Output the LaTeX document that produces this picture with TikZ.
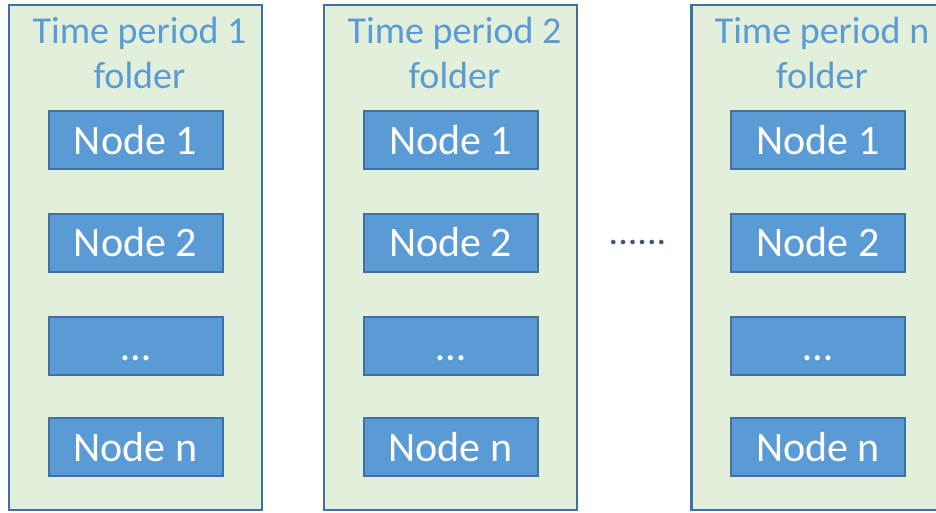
\documentclass[tikz,border=0pt]{standalone}
\usepackage{fontspec}
\setmainfont{Carlito}
\definecolor{folderfill}{HTML}{E2EFDA}
\definecolor{edgeblue}{HTML}{41719C}
\definecolor{nodeblue}{HTML}{5B9BD5}
\definecolor{titleblue}{HTML}{5B9BD5}
\definecolor{dotgray}{HTML}{44546A}

\begin{document}
\begin{tikzpicture}[x=1pt,y=-1pt,
  folder/.style={draw=edgeblue, fill=folderfill, line width=2.5pt,
    minimum width=253pt, minimum height=505pt, inner sep=0pt},
  foldertitle/.style={text=titleblue, font=\fontsize{38}{45}\selectfont,
    align=center, inner sep=0pt},
  item/.style={draw=edgeblue, fill=nodeblue, line width=2pt,
    minimum width=174pt, minimum height=58pt, inner sep=0pt, text=white,
    font=\fontsize{42}{50}\selectfont, text height=28pt, text depth=0pt},
  gapdots/.style={text=dotgray, font=\fontsize{38}{43}\selectfont, inner sep=0pt}]
  \useasboundingbox (0,0) rectangle (936,512);
  \clip (0,0) rectangle (936,512);

  % one folder per time period, each holding the same list of nodes
  \foreach \k/\cx/\lab in {1/135.5/1, 2/450.5/2, 3/818/n} {
    \node[folder] (folder\k) at (\cx,257.5) {};
    \node[foldertitle] (title\k) at (\cx+4,53) {Time period \lab\\folder};
    \node[item] (node\k-1) at (\cx,140) {Node 1};
    \node[item] (node\k-2) at (\cx,242.5) {Node 2};
    \node[item] (node\k-x) at (\cx,346) {…};
    \node[item] (node\k-n) at (\cx,447) {Node n};
  }

  % the periods left out between folder 2 and folder n
  \node[gapdots, anchor=base] (gap) at (637.5,244.5) {......};
\end{tikzpicture}
\end{document}
